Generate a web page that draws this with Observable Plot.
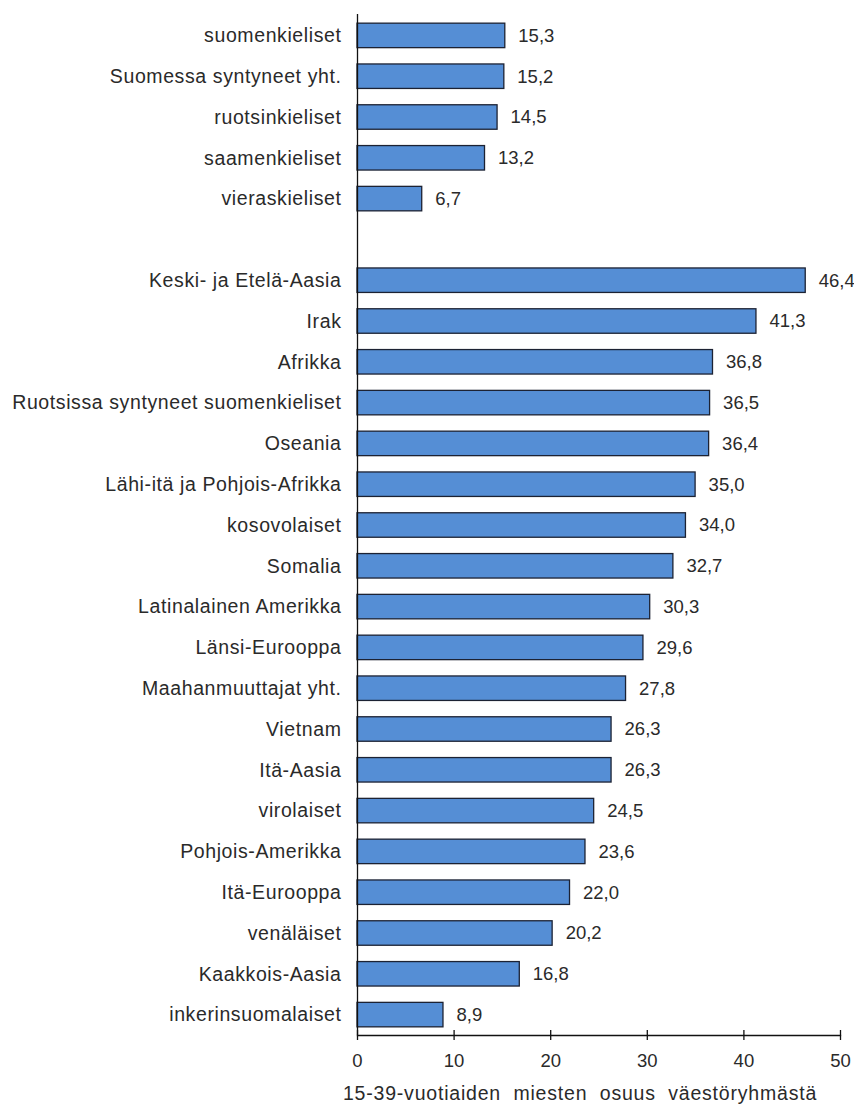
<!DOCTYPE html>
<html>
<head>
<meta charset="utf-8">
<script src="https://cdn.jsdelivr.net/npm/d3@7"></script>
<script src="https://cdn.jsdelivr.net/npm/@observablehq/plot@0.6"></script>
<style>
  html, body { margin: 0; padding: 0; background: #fff; }
  #chart svg { display: block; }
  #chart g[aria-label="y-axis tick label"] text { letter-spacing: 0.6px; }
  #chart svg > g:last-child text { letter-spacing: 0.8px; white-space: pre; }
</style>
</head>
<body>
<div id="chart"></div>
<script>
const groupA = ["suomenkieliset", "Suomessa syntyneet yht.", "ruotsinkieliset", "saamenkieliset", "vieraskieliset"];
const valuesA = [15.3, 15.2, 14.5, 13.2, 6.7];
const groupB = ["Keski- ja Etelä-Aasia", "Irak", "Afrikka", "Ruotsissa syntyneet suomenkieliset", "Oseania",
  "Lähi-itä ja Pohjois-Afrikka", "kosovolaiset", "Somalia", "Latinalainen Amerikka", "Länsi-Eurooppa",
  "Maahanmuuttajat yht.", "Vietnam", "Itä-Aasia", "virolaiset", "Pohjois-Amerikka", "Itä-Eurooppa",
  "venäläiset", "Kaakkois-Aasia", "inkerinsuomalaiset"];
const valuesB = [46.4, 41.3, 36.8, 36.5, 36.4, 35.0, 34.0, 32.7, 30.3, 29.6, 27.8, 26.3, 26.3, 24.5, 23.6, 22.0, 20.2, 16.8, 8.9];
const gapLabel = " ";
const xTicks = [0, 10, 20, 30, 40, 50];
const xTitle = "15-39-vuotiaiden  miesten  osuus  väestöryhmästä";

const rows = [
  ...groupA.map((c, i) => ({cat: c, value: valuesA[i]})),
  ...groupB.map((c, i) => ({cat: c, value: valuesB[i]}))
];
const domain = [...groupA, gapLabel, ...groupB];
const fmt = v => v.toFixed(1).replace(".", ",");

const font = "Liberation Sans, Arial, sans-serif";
const marginTop = 15, marginBottom = 69;
const height = 1104;
const frameH = height - marginTop - marginBottom;

const chart = Plot.plot({
  width: 854,
  height,
  marginLeft: 357,
  marginRight: 14,
  marginTop,
  marginBottom,
  style: {fontFamily: font, fontSize: "18px", color: "#2a2a2a", background: "#fff"},
  x: {domain: [0, 50], ticks: xTicks},
  y: {domain, paddingInner: 0.4, paddingOuter: 0.2, round: false},
  marks: [
    Plot.barX(rows, {x: "value", y: "cat", fill: "#558ED5", stroke: "#1c2233", strokeWidth: 1.3}),
    Plot.text(rows, {x: "value", y: "cat", text: d => fmt(d.value), textAnchor: "start", dx: 13, fontSize: 18.5, fill: "#2a2a2a"}),
    Plot.ruleX([0], {stroke: "#111", strokeWidth: 1.3, insetTop: -1}),
    Plot.ruleX(xTicks, {x: d => d, stroke: "#111", strokeWidth: 1.3, insetTop: frameH - 5, insetBottom: -5}),
    Plot.frame({anchor: "bottom", stroke: "#111", strokeWidth: 1.3}),
    Plot.axisY({tickSize: 0, tickPadding: 16, fontSize: 19.5, label: null}),
    Plot.axisX({ticks: xTicks, tickSize: 0, tickPadding: 18, fontSize: 18.5, label: null}),
    Plot.text([xTitle], {frameAnchor: "bottom", dy: 58, dx: -19, fontSize: 19.5, fill: "#2a2a2a", text: d => d, lineAnchor: "middle"})
  ]
});
document.getElementById("chart").append(chart);
</script>
</body>
</html>
